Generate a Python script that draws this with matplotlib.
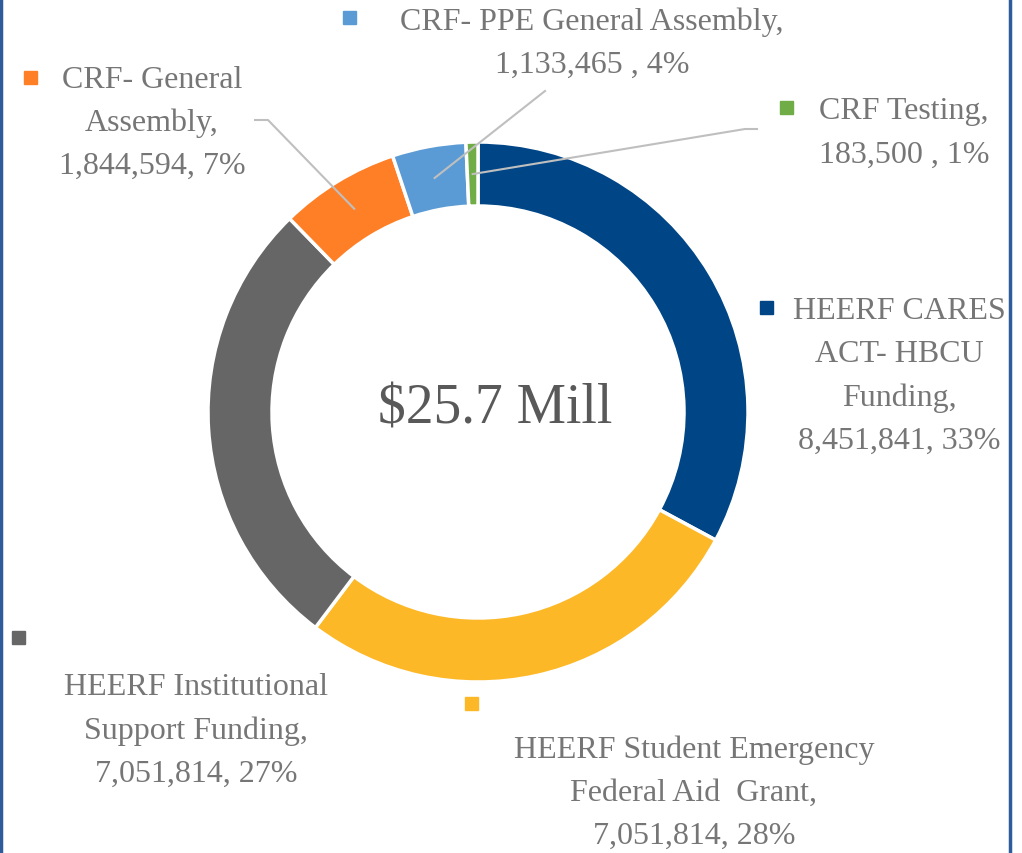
import numpy as np
import matplotlib.pyplot as plt
from matplotlib.patches import Rectangle

# data, clockwise from 12 o'clock
names = ["HEERF CARES\nACT- HBCU\nFunding,\n8,451,841, 33%",
         "HEERF Student Emergency\nFederal Aid  Grant,\n7,051,814, 28%",
         "HEERF Institutional\nSupport Funding,\n7,051,814, 27%",
         "CRF- General\nAssembly,\n1,844,594, 7%",
         "CRF- PPE General Assembly,\n1,133,465 , 4%",
         "CRF Testing,\n183,500 , 1%"]
values = [8451841, 7051814, 7051814, 1844594, 1133465, 183500]
colors = ["#004586", "#FDB827", "#666666", "#FF7F27", "#5B9BD5", "#70AD47"]
center_label = "$25.7 Mill"

W, H = 1022, 854
fig = plt.figure(figsize=(W / 100, H / 100), dpi=100)

cx, cy, R, ring = 478, 413, 270, 64

# wedges drawn by pie on an axes with pixel units (y up)
pax = fig.add_axes([0, 0, 1, 1])
pax.pie(values, colors=colors, startangle=90, counterclock=False,
        center=(cx, H - cy), radius=R, frame=True,
        wedgeprops=dict(width=ring, edgecolor="white", linewidth=2.5))
pax.set_xlim(0, W)
pax.set_ylim(0, H)
pax.set_aspect("auto")
pax.axis("off")

# overlay axes in image pixel units (y down) for labels
ax = fig.add_axes([0, 0, 1, 1])
ax.set_xlim(0, W)
ax.set_ylim(H, 0)
ax.axis("off")

fnt = "Liberation Serif"
tcol = "#767676"
lab_size = 23

# label anchor positions (text block centre x, top line y), marker pos
lab_pos = [(899, 312, 766, 308),
           (694, 750, 471, 704),
           (196, 688, 18, 638),
           (152, 80, 30, 78),
           (592, 22, 349, 18),
           (904, 112, 786, 108)]

for n, c, (tx, ty, mx, my) in zip(names, colors, lab_pos):
    for i, line in enumerate(n.split("\n")):
        ax.text(tx, ty + i * 43, line, ha="center", va="center",
                fontsize=lab_size, family=fnt, color=tcol, zorder=3)
    ax.add_patch(Rectangle((mx - 6.5, my - 6.5), 13, 13, color=c, zorder=3))

# leader lines for the small slices
frac = np.array(values) / sum(values)
cum = np.cumsum(frac) - frac / 2
rmid = R - ring / 2
leaders = {3: [(268, 121), (255, 121)],
           4: [(545, 92)],
           5: [(745, 130), (757, 130)]}
for k, pts in leaders.items():
    ang = np.deg2rad(90 - cum[k] * 360)
    x0 = cx + rmid * np.cos(ang)
    y0 = cy - rmid * np.sin(ang)
    xs = [x0] + [p[0] for p in pts]
    ys = [y0] + [p[1] for p in pts]
    ax.plot(xs, ys, color="#BFBFBF", lw=1.5, zorder=4)

ax.text(495, 410, center_label, ha="center", va="center", fontsize=40,
        family=fnt, color="#595959", zorder=3)

# frame edges
ax.plot([1, 1], [0, H], color="#2E5C9A", lw=2.5, zorder=5)
ax.plot([1010, 1010], [0, H], color="#2E5C9A", lw=2.5, zorder=5)

fig.savefig("out.png", dpi=100)
